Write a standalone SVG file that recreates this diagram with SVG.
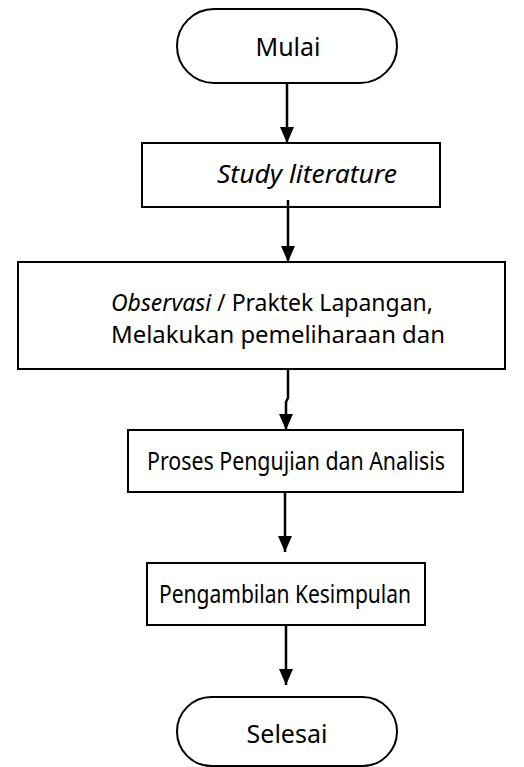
<svg xmlns="http://www.w3.org/2000/svg" width="524" height="767" viewBox="0 0 524 767">
<style>
.box{fill:#fff;stroke:#000;stroke-width:2}
.t{font-family:"Noto Sans",sans-serif;font-size:25px;fill:#000;text-anchor:middle}
.it{font-style:italic}
.c{fill:none;stroke:#000;stroke-width:2.5}
</style>
<defs>
<marker id="ah" markerUnits="userSpaceOnUse" markerWidth="16" markerHeight="14" refX="16" refY="7" orient="auto">
<path d="M0,0 L16,7 L0,14 z" fill="#000"/>
</marker>
</defs>
<rect width="524" height="767" fill="#fff"/>
<g id="mulai">
<rect class="box" x="177" y="9" width="220" height="74" rx="37" ry="37"/>
<text class="t" x="288" y="56">Mulai</text>
</g>
<g id="study">
<rect class="box" x="142" y="143" width="298" height="64"/>
<text class="t it" x="307" y="183" textLength="180" lengthAdjust="spacingAndGlyphs">Study literature</text>
</g>
<g id="observasi">
<rect class="box" x="18" y="262" width="487" height="107"/>
<text class="t" x="272" y="311" style="font-size:24px" textLength="322" lengthAdjust="spacingAndGlyphs"><tspan class="it">Observasi</tspan> / Praktek Lapangan,</text>
<text class="t" x="278" y="343" style="font-size:24px" textLength="334" lengthAdjust="spacingAndGlyphs">Melakukan pemeliharaan dan</text>
</g>
<g id="proses">
<rect class="box" x="128" y="430" width="335" height="62"/>
<text class="t" x="296" y="470" textLength="298" lengthAdjust="spacingAndGlyphs">Proses Pengujian dan Analisis</text>
</g>
<g id="pengambilan">
<rect class="box" x="147" y="563" width="278" height="62"/>
<text class="t" x="285" y="603" textLength="252" lengthAdjust="spacingAndGlyphs">Pengambilan Kesimpulan</text>
</g>
<g id="selesai">
<rect class="box" x="177" y="697" width="220" height="69" rx="34.5" ry="34.5"/>
<text class="t" x="287" y="743">Selesai</text>
</g>
<g id="connectors">
<line class="c" x1="287" y1="83" x2="287" y2="143" marker-end="url(#ah)"/>
<line class="c" x1="288" y1="200" x2="288" y2="262" marker-end="url(#ah)"/>
<polyline class="c" points="288,369 288,398 286,402 286,430" marker-end="url(#ah)"/>
<line class="c" x1="285" y1="492" x2="285" y2="552" marker-end="url(#ah)"/>
<line class="c" x1="286" y1="625" x2="286" y2="685" marker-end="url(#ah)"/>
</g>
</svg>
